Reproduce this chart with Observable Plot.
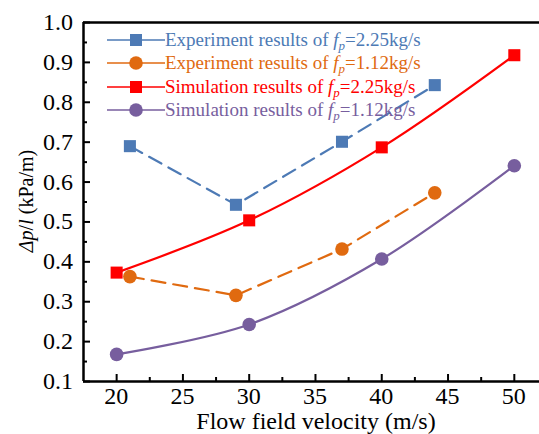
<!DOCTYPE html>
<html>
<head>
<meta charset="utf-8">
<script src="https://cdn.jsdelivr.net/npm/d3@7"></script>
<script src="https://cdn.jsdelivr.net/npm/@observablehq/plot@0.6"></script>
<style>
  html, body { margin: 0; padding: 0; background: #fff; }
  #wrap { position: relative; width: 539px; height: 434px; font-family: 'Liberation Serif', serif; }
  #wrap > svg { position: absolute; left: 0; top: 0; }
  .leg { position: absolute; left: 0; top: 0; width: 539px; height: 434px; pointer-events: none; font-family: 'Liberation Serif', serif; }
  .row { position: absolute; left: 107px; height: 22px; line-height: 22px; font-size: 19px; white-space: nowrap; font-family: 'Liberation Serif', serif; }
  .row svg { display: inline-block; vertical-align: middle; position: relative; top: -2px; }
  .ylab { position: absolute; left: 26px; top: 201px; line-height: 1; transform: translate(-50%, -50%) rotate(-90deg); font-size: 20px; white-space: nowrap; font-family: 'Liberation Serif', serif; }
  .xlab { position: absolute; left: 316px; top: 409px; line-height: 1; transform: translateX(-50%); font-size: 24px; white-space: nowrap; font-family: 'Liberation Serif', serif; }
  .tl { position: absolute; line-height: 1; font-size: 24px; white-space: nowrap; color: #000; font-family: 'Liberation Serif', serif; }
</style>
</head>
<body>
<div id="wrap"></div>
<script>
// Data
const expVelocity = [21, 29, 37, 44];
const exp225 = [0.690, 0.543, 0.701, 0.843];
const exp112 = [0.363, 0.316, 0.432, 0.573];
const simVelocity = [20, 30, 40, 50];
const sim225 = [0.373, 0.504, 0.687, 0.918];
const sim112 = [0.168, 0.243, 0.407, 0.641];

const xMajor = [20, 25, 30, 35, 40, 45, 50];
const xMinor = [22.5, 27.5, 32.5, 37.5, 42.5, 47.5];
const yMajor = [0.1, 0.2, 0.3, 0.4, 0.5, 0.6, 0.7, 0.8, 0.9, 1.0];
const yMinor = [0.15, 0.25, 0.35, 0.45, 0.55, 0.65, 0.75, 0.85, 0.95];

const seriesNames = [
  "Experiment results of f_p=2.25kg/s",
  "Experiment results of f_p=1.12kg/s",
  "Simulation results of f_p=2.25kg/s",
  "Simulation results of f_p=1.12kg/s"
];
const colors = ["#4d7ab5", "#e06a10", "#ff0000", "#775e9e"];

const rows = (xs, ys) => xs.map((x, i) => ({x, y: ys[i]}));
const dExp225 = rows(expVelocity, exp225);
const dExp112 = rows(expVelocity, exp112);
const dSim225 = rows(simVelocity, sim225);
const dSim112 = rows(simVelocity, sim112);

const xDomain = [17.5, 51.9];
const yDomain = [0.1, 1.0];

const plot = Plot.plot({
  width: 539,
  height: 434,
  marginLeft: 83,
  marginRight: 0,
  marginTop: 22,
  marginBottom: 53,
  style: {color: "#000", background: "transparent"},
  x: {domain: xDomain, axis: null},
  y: {domain: yDomain, axis: null},
  marks: [
    Plot.ruleY([yDomain[1]], {stroke: "#000", strokeWidth: 2.5}),
    Plot.line(dExp225, {x: "x", y: "y", stroke: colors[0], strokeWidth: 2.2, strokeDasharray: "14,8"}),
    Plot.line(dExp112, {x: "x", y: "y", stroke: colors[1], strokeWidth: 2.2, strokeDasharray: "14,8"}),
    Plot.line(dSim225, {x: "x", y: "y", stroke: colors[2], strokeWidth: 2.2, curve: "catmull-rom"}),
    Plot.line(dSim112, {x: "x", y: "y", stroke: colors[3], strokeWidth: 2.2, curve: "catmull-rom"}),
    Plot.dot(dExp225, {x: "x", y: "y", symbol: "square", r: 6.8, fill: colors[0]}),
    Plot.dot(dExp112, {x: "x", y: "y", symbol: "circle", r: 6.8, fill: colors[1]}),
    Plot.dot(dSim225, {x: "x", y: "y", symbol: "square", r: 6.8, fill: colors[2]}),
    Plot.dot(dSim112, {x: "x", y: "y", symbol: "circle", r: 6.8, fill: colors[3]}),
    // inward ticks
    Plot.axisX(xMajor, {tickSize: -7, text: null, label: null, strokeWidth: 2}),
    Plot.axisX(xMinor, {tickSize: -4, text: null, label: null, strokeWidth: 2}),
    Plot.axisY(yMajor, {tickSize: -7, text: null, label: null, strokeWidth: 2}),
    Plot.axisY(yMinor, {tickSize: -4, text: null, label: null, strokeWidth: 2}),
    Plot.ruleX([xDomain[0]], {stroke: "#000", strokeWidth: 2.5}),
    Plot.ruleY([yDomain[0]], {stroke: "#000", strokeWidth: 2.5})
  ]
});

const wrap = document.getElementById("wrap");
wrap.appendChild(plot);

// Tick labels positioned through the plot's own scales
const sx = plot.scale("x"), sy = plot.scale("y");
const x0 = sx.apply(xDomain[0]), yBase = sy.apply(yDomain[0]);
xMajor.forEach(v => {
  const d = document.createElement("div");
  d.className = "tl";
  d.textContent = String(v);
  d.style.left = sx.apply(v) + "px";
  d.style.top = (yBase + 15) + "px";
  d.style.transform = "translate(-50%, -50%)";
  wrap.appendChild(d);
});
yMajor.forEach(v => {
  const d = document.createElement("div");
  d.className = "tl";
  d.textContent = v.toFixed(1);
  d.style.left = (x0 - 10) + "px";
  d.style.top = sy.apply(v) + "px";
  d.style.transform = "translate(-100%, -50%)";
  wrap.appendChild(d);
});

const leg = document.createElement("div");
leg.className = "leg";
const symbols = ["square", "circle", "square", "circle"];
const rowTops = [29, 52, 76, 99];
seriesNames.forEach((name, i) => {
  const row = document.createElement("div");
  row.className = "row";
  row.style.top = rowTops[i] + "px";
  row.style.color = colors[i];
  const icon = symbols[i] === "square"
    ? `<rect x="23" y="5" width="12" height="12" fill="${colors[i]}"/>`
    : `<circle cx="29" cy="11" r="6.8" fill="${colors[i]}"/>`;
  const parts = name.split("f_p");
  row.innerHTML = `<svg width="58" height="22"><line x1="0" x2="58" y1="11" y2="11" stroke="${colors[i]}" stroke-width="1.6"/>${icon}</svg>`
    + `<span>${parts[0]}<i>f</i><i style="font-size:13px;position:relative;top:4px">p</i>${parts[1]}</span>`;
  leg.appendChild(row);
});
wrap.appendChild(leg);

const ylab = document.createElement("div");
ylab.className = "ylab";
ylab.innerHTML = "<i>&Delta;p</i>/<i>l</i> (kPa/m)";
wrap.appendChild(ylab);

const xlab = document.createElement("div");
xlab.className = "xlab";
xlab.textContent = "Flow field velocity (m/s)";
wrap.appendChild(xlab);
</script>
</body>
</html>
